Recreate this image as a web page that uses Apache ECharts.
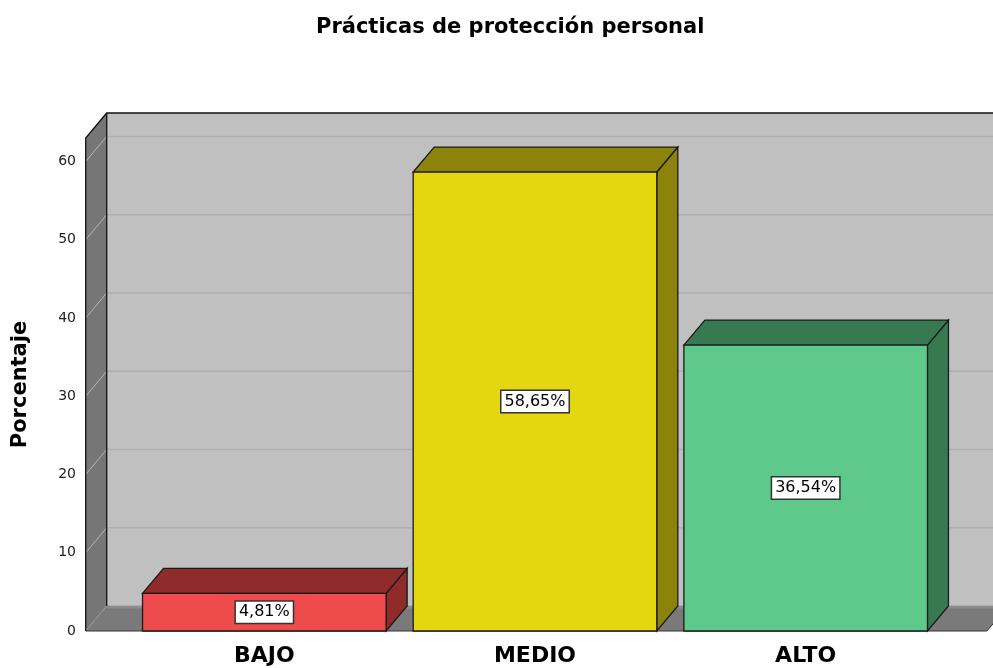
<!DOCTYPE html>
<html>
<head>
<meta charset="utf-8">
<script src="https://cdn.jsdelivr.net/npm/echarts@6/dist/echarts.min.js"></script>
<style>
  html, body { margin: 0; padding: 0; background: #ffffff; }
  #chart { width: 993px; height: 668px; }
</style>
</head>
<body>
<div id="chart"></div>
<script>
// Data
const categories = ['BAJO', 'MEDIO', 'ALTO'];
const percentages = [4.81, 58.65, 36.54];
const yTicks = [0, 10, 20, 30, 40, 50, 60];
const yMax = 63;

// Palette: front faces and shaded top/side faces
const faceColors = ['#ee4c4c', '#e3d70f', '#5ec98a'];
const shadeColors = ['#8f2b2b', '#8c830a', '#377a51'];

// 3D box depth (pixels) and how far floor/walls reach past the outer bands
const DX = 21, DY = -25;
const EXT_LEFT = 0.66, EXT_RIGHT = 0.67;
const FONT = '"DejaVu Sans", sans-serif';

const chart = echarts.init(document.getElementById('chart'), null, { renderer: 'canvas' });

function fmt(v) {
  return v.toFixed(2).replace('.', ',') + '%';
}

// Back wall, left wall, floor, grid lines and edges
function renderFrame(params, api) {
  const band = api.size([1, 0])[0];
  const y0 = api.coord([0, 0])[1];
  const yTop = api.coord([0, yMax])[1];
  const xL = api.coord([0, 0])[0] - band * EXT_LEFT;
  const xR = api.coord([categories.length - 1, 0])[0] + band * EXT_RIGHT;
  const children = [];

  // back wall
  children.push({
    type: 'rect',
    shape: { x: xL + DX, y: yTop + DY, width: xR - xL + 10, height: y0 - yTop },
    style: { fill: '#c0c0c0' }
  });
  // back-wall grid lines
  yTicks.forEach(t => {
    const y = api.coord([0, t])[1] + DY;
    children.push({
      type: 'line',
      shape: { x1: xL + DX, y1: y, x2: xR + DX + 10, y2: y },
      style: { stroke: t === 0 ? '#d0d0d0' : '#aeaeae', lineWidth: 1.5 }
    });
  });
  // left wall
  children.push({
    type: 'polygon',
    shape: { points: [[xL, yTop], [xL + DX, yTop + DY], [xL + DX, y0 + DY], [xL, y0]] },
    style: { fill: '#767676' }
  });
  // left-wall grid lines
  yTicks.forEach(t => {
    const y = api.coord([0, t])[1];
    children.push({
      type: 'line',
      shape: { x1: xL, y1: y, x2: xL + DX, y2: y + DY },
      style: { stroke: '#b8b8b8', lineWidth: 1 }
    });
  });
  // floor
  children.push({
    type: 'polygon',
    shape: { points: [[xL, y0], [xL + DX, y0 + DY], [xR + DX, y0 + DY], [xR, y0]] },
    style: { fill: '#7a7a7a' }
  });
  children.push({
    type: 'line',
    shape: { x1: xL + DX, y1: y0 + DY + 1, x2: xR + DX + 10, y2: y0 + DY + 1 },
    style: { stroke: '#8c8c8c', lineWidth: 3 }
  });
  // edges
  const edge = { stroke: '#111111', lineWidth: 1.3, fill: null };
  children.push({
    type: 'polyline',
    shape: { points: [[xL, y0], [xL, yTop], [xL + DX, yTop + DY], [xR + DX + 10, yTop + DY]] },
    style: edge
  });
  children.push({
    type: 'line',
    shape: { x1: xL + DX, y1: yTop + DY, x2: xL + DX, y2: y0 + DY },
    style: edge
  });
  children.push({
    type: 'polyline',
    shape: { points: [[xL, y0], [xR, y0], [xR + DX, y0 + DY]] },
    style: { stroke: '#333333', lineWidth: 1, fill: null }
  });
  return { type: 'group', children: children };
}

// One 3D bar per category, with its value label
function renderBar(params, api) {
  const i = api.value(0);
  const v = api.value(1);
  const top = api.coord([i, v]);
  const y0 = api.coord([i, 0])[1];
  const w = api.size([1, 0])[0] * 0.9;
  const x0 = top[0] - w / 2, x1 = top[0] + w / 2, yv = top[1];
  const line = { stroke: '#1a1a1a', lineWidth: 1.3 };
  return {
    type: 'group',
    children: [
      {
        type: 'polygon',
        shape: { points: [[x1, yv], [x1 + DX, yv + DY], [x1 + DX, y0 + DY], [x1, y0]] },
        style: Object.assign({ fill: shadeColors[i] }, line)
      },
      {
        type: 'polygon',
        shape: { points: [[x0, yv], [x0 + DX, yv + DY], [x1 + DX, yv + DY], [x1, yv]] },
        style: Object.assign({ fill: shadeColors[i] }, line)
      },
      {
        type: 'rect',
        shape: { x: x0, y: yv, width: w, height: y0 - yv },
        style: Object.assign({ fill: faceColors[i] }, line)
      },
      {
        type: 'text',
        x: top[0],
        y: (yv + y0) / 2,
        style: {
          text: fmt(v),
          font: '16px ' + FONT,
          fill: '#000000',
          align: 'center',
          verticalAlign: 'middle',
          backgroundColor: '#ffffff',
          borderColor: '#333333',
          borderWidth: 1.5,
          padding: [3, 3, 2, 3]
        }
      }
    ]
  };
}

chart.setOption({
  animation: false,
  backgroundColor: '#ffffff',
  title: {
    text: 'Prácticas de protección personal',
    left: 311,
    top: 12,
    textStyle: { fontFamily: FONT, fontSize: 21, fontWeight: 'bold', color: '#000000' }
  },
  grid: { left: 129, right: 52, top: 138, bottom: 37 },
  xAxis: {
    type: 'category',
    data: categories,
    axisLine: { show: false },
    axisTick: { show: false },
    splitLine: { show: false },
    axisLabel: {
      margin: 14,
      fontFamily: FONT,
      fontSize: 22,
      fontWeight: 'bold',
      color: '#000000'
    }
  },
  yAxis: {
    type: 'value',
    min: 0,
    max: yMax,
    interval: 10,
    offset: 43,
    name: 'Porcentaje',
    nameLocation: 'middle',
    nameRotate: 90,
    nameGap: 55,
    nameTextStyle: { fontFamily: FONT, fontSize: 21, fontWeight: 'bold', color: '#000000' },
    axisLine: { show: false },
    axisTick: { show: false },
    splitLine: { show: false },
    axisLabel: {
      margin: 10,
      fontFamily: FONT,
      fontSize: 14,
      color: '#222222',
      padding: [7, 0, 0, 0],
      formatter: v => (yTicks.indexOf(v) >= 0 ? String(v) : '')
    }
  },
  series: [
    {
      type: 'custom',
      z: 1,
      silent: true,
      renderItem: renderFrame,
      data: [[0, 0]],
      clip: false
    },
    {
      type: 'custom',
      z: 2,
      renderItem: renderBar,
      data: categories.map((c, i) => [i, percentages[i]]),
      clip: false
    }
  ]
});
</script>
</body>
</html>
